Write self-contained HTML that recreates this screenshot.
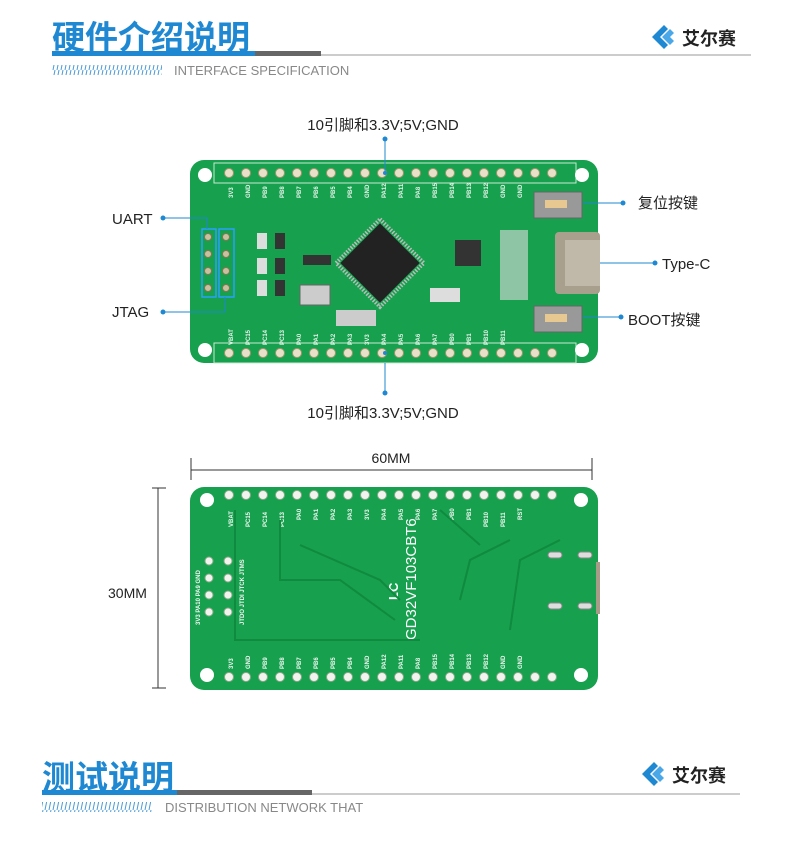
<!DOCTYPE html>
<html><head><meta charset="utf-8"><style>
body{margin:0;background:#fff;width:790px;height:837px;overflow:hidden;font-family:"Liberation Sans","Noto Sans CJK SC",sans-serif}
</style></head><body>
<svg width="790" height="837" viewBox="0 0 790 837" xmlns="http://www.w3.org/2000/svg" font-family="Liberation Sans, Noto Sans CJK SC, sans-serif">
<defs>
<pattern id="sl" width="4" height="10" patternUnits="userSpaceOnUse"><line x1="3" y1="0" x2="1" y2="10" stroke="#4a9ad8" stroke-width="1"/></pattern>
</defs>
<!-- header -->
<text x="52" y="49" font-size="33" font-weight="bold" fill="#1f88d2" font-family="Noto Sans CJK SC, sans-serif">硬件介绍说明</text>
<rect x="52" y="51" width="203" height="5" fill="#1f88d2"/>
<rect x="255" y="51" width="66" height="5" fill="#666"/>
<rect x="321" y="54" width="430" height="2" fill="#ccc"/>
<rect x="52" y="65" width="110" height="10" fill="url(#sl)"/>
<text x="174" y="75" font-size="13" fill="#888">INTERFACE SPECIFICATION</text>
<g transform="translate(652,25)"><path d="M0 12 L12 0 L16 4 L8 12 L16 20 L12 24Z" fill="#1f88d2"/><path d="M10 12 L18 4 L22 8 L18 12 L22 16 L18 20Z" fill="#4aa8e8"/><text x="30" y="20" font-size="18" font-weight="bold" fill="#222" font-family="Noto Sans CJK SC, sans-serif">艾尔赛</text></g>

<!-- top board -->
<rect x="190" y="160" width="408" height="203" rx="14" fill="#17a04e"/>
<rect x="214" y="163" width="362" height="20" fill="none" stroke="#c8e8d0" stroke-width="1"/>
<rect x="214" y="343" width="362" height="20" fill="none" stroke="#c8e8d0" stroke-width="1"/>
<g fill="#fff"><circle cx="205" cy="175" r="7"/><circle cx="582" cy="175" r="7"/><circle cx="205" cy="350" r="7"/><circle cx="582" cy="350" r="7"/></g>
<g fill="#e8e0c8" stroke="#a09870" stroke-width="1">
<circle cx="229" cy="173" r="4.5"/><circle cx="246" cy="173" r="4.5"/><circle cx="263" cy="173" r="4.5"/><circle cx="280" cy="173" r="4.5"/><circle cx="297" cy="173" r="4.5"/><circle cx="314" cy="173" r="4.5"/><circle cx="331" cy="173" r="4.5"/><circle cx="348" cy="173" r="4.5"/><circle cx="365" cy="173" r="4.5"/><circle cx="382" cy="173" r="4.5"/><circle cx="399" cy="173" r="4.5"/><circle cx="416" cy="173" r="4.5"/><circle cx="433" cy="173" r="4.5"/><circle cx="450" cy="173" r="4.5"/><circle cx="467" cy="173" r="4.5"/><circle cx="484" cy="173" r="4.5"/><circle cx="501" cy="173" r="4.5"/><circle cx="518" cy="173" r="4.5"/><circle cx="535" cy="173" r="4.5"/><circle cx="552" cy="173" r="4.5"/>
<circle cx="229" cy="353" r="4.5"/><circle cx="246" cy="353" r="4.5"/><circle cx="263" cy="353" r="4.5"/><circle cx="280" cy="353" r="4.5"/><circle cx="297" cy="353" r="4.5"/><circle cx="314" cy="353" r="4.5"/><circle cx="331" cy="353" r="4.5"/><circle cx="348" cy="353" r="4.5"/><circle cx="365" cy="353" r="4.5"/><circle cx="382" cy="353" r="4.5"/><circle cx="399" cy="353" r="4.5"/><circle cx="416" cy="353" r="4.5"/><circle cx="433" cy="353" r="4.5"/><circle cx="450" cy="353" r="4.5"/><circle cx="467" cy="353" r="4.5"/><circle cx="484" cy="353" r="4.5"/><circle cx="501" cy="353" r="4.5"/><circle cx="518" cy="353" r="4.5"/><circle cx="535" cy="353" r="4.5"/><circle cx="552" cy="353" r="4.5"/>
</g>
<g font-size="6" fill="#e8f4ec" font-weight="bold">
<text transform="translate(233,198) rotate(-90)">3V3</text><text transform="translate(250,198) rotate(-90)">GND</text><text transform="translate(267,198) rotate(-90)">PB9</text><text transform="translate(284,198) rotate(-90)">PB8</text><text transform="translate(301,198) rotate(-90)">PB7</text><text transform="translate(318,198) rotate(-90)">PB6</text><text transform="translate(335,198) rotate(-90)">PB5</text><text transform="translate(352,198) rotate(-90)">PB4</text><text transform="translate(369,198) rotate(-90)">GND</text><text transform="translate(386,198) rotate(-90)">PA12</text><text transform="translate(403,198) rotate(-90)">PA11</text><text transform="translate(420,198) rotate(-90)">PA8</text><text transform="translate(437,198) rotate(-90)">PB15</text><text transform="translate(454,198) rotate(-90)">PB14</text><text transform="translate(471,198) rotate(-90)">PB13</text><text transform="translate(488,198) rotate(-90)">PB12</text><text transform="translate(505,198) rotate(-90)">GND</text><text transform="translate(522,198) rotate(-90)">GND</text>
<text transform="translate(233,345) rotate(-90)">VBAT</text><text transform="translate(250,345) rotate(-90)">PC15</text><text transform="translate(267,345) rotate(-90)">PC14</text><text transform="translate(284,345) rotate(-90)">PC13</text><text transform="translate(301,345) rotate(-90)">PA0</text><text transform="translate(318,345) rotate(-90)">PA1</text><text transform="translate(335,345) rotate(-90)">PA2</text><text transform="translate(352,345) rotate(-90)">PA3</text><text transform="translate(369,345) rotate(-90)">3V3</text><text transform="translate(386,345) rotate(-90)">PA4</text><text transform="translate(403,345) rotate(-90)">PA5</text><text transform="translate(420,345) rotate(-90)">PA6</text><text transform="translate(437,345) rotate(-90)">PA7</text><text transform="translate(454,345) rotate(-90)">PB0</text><text transform="translate(471,345) rotate(-90)">PB1</text><text transform="translate(488,345) rotate(-90)">PB10</text><text transform="translate(505,345) rotate(-90)">PB11</text>
</g>
<rect x="202" y="229" width="14" height="68" fill="none" stroke="#2aa0ff" stroke-width="1.5"/>
<rect x="219" y="229" width="15" height="68" fill="none" stroke="#2aa0ff" stroke-width="1.5"/>
<g fill="#c8c0a0" stroke="#807850"><circle cx="208" cy="237" r="3.5"/><circle cx="208" cy="254" r="3.5"/><circle cx="208" cy="271" r="3.5"/><circle cx="208" cy="288" r="3.5"/><circle cx="226" cy="237" r="3.5"/><circle cx="226" cy="254" r="3.5"/><circle cx="226" cy="271" r="3.5"/><circle cx="226" cy="288" r="3.5"/></g>
<g transform="translate(380,263) rotate(45)"><rect x="-31" y="-31" width="62" height="62" fill="none" stroke="#bbb" stroke-width="4" stroke-dasharray="1.5 1.5"/><rect x="-28" y="-28" width="56" height="56" fill="#222"/></g>
<g fill="#333"><rect x="455" y="240" width="26" height="26"/><rect x="300" y="285" width="30" height="20" fill="#ccc" stroke="#666"/><rect x="303" y="255" width="28" height="10" fill="#333"/>
<rect x="257" y="233" width="10" height="16" fill="#ddd"/><rect x="257" y="258" width="10" height="16" fill="#ddd"/><rect x="257" y="280" width="10" height="16" fill="#ddd"/>
<rect x="275" y="233" width="10" height="16"/><rect x="275" y="258" width="10" height="16"/><rect x="275" y="280" width="10" height="16"/>
<rect x="336" y="310" width="40" height="16" fill="#ccc"/><rect x="430" y="288" width="30" height="14" fill="#ddd"/><rect x="500" y="230" width="28" height="70" fill="#ddd" opacity="0.6"/></g>
<rect x="534" y="192" width="48" height="26" fill="#999" stroke="#666"/><rect x="545" y="200" width="22" height="8" fill="#e6c890"/>
<rect x="534" y="306" width="48" height="26" fill="#999" stroke="#666"/><rect x="545" y="314" width="22" height="8" fill="#e6c890"/>
<rect x="555" y="232" width="45" height="62" rx="4" fill="#a8a08c"/><rect x="565" y="240" width="35" height="46" fill="#c0b8a8"/>
<g stroke="#1f88d2" stroke-width="1" fill="none">
<line x1="385" y1="139" x2="385" y2="173"/><line x1="385" y1="363" x2="385" y2="393"/>
<polyline points="163,218 207,218 207,229"/><polyline points="163,312 225,312 225,297"/>
<line x1="583" y1="203" x2="623" y2="203"/><line x1="600" y1="263" x2="655" y2="263"/><line x1="583" y1="317" x2="621" y2="317"/>
</g>
<g fill="#1f88d2"><circle cx="385" cy="139" r="2.5"/><circle cx="385" cy="393" r="2.5"/><circle cx="163" cy="218" r="2.5"/><circle cx="163" cy="312" r="2.5"/><circle cx="623" cy="203" r="2.5"/><circle cx="655" cy="263" r="2.5"/><circle cx="621" cy="317" r="2.5"/><circle cx="385" cy="173" r="2"/><circle cx="385" cy="353" r="2"/></g>
<g font-size="15" fill="#222">
<text x="383" y="130" text-anchor="middle">10引脚和3.3V;5V;GND</text>
<text x="383" y="418" text-anchor="middle">10引脚和3.3V;5V;GND</text>
<text x="112" y="224">UART</text><text x="112" y="317">JTAG</text>
<text x="638" y="208">复位按键</text><text x="662" y="269">Type-C</text><text x="628" y="325">BOOT按键</text>
</g>

<g stroke="#333" stroke-width="1"><line x1="191" y1="470" x2="592" y2="470"/><line x1="191" y1="458" x2="191" y2="480"/><line x1="592" y1="458" x2="592" y2="480"/>
<line x1="158" y1="488" x2="158" y2="688"/><line x1="152" y1="488" x2="166" y2="488"/><line x1="152" y1="688" x2="166" y2="688"/></g>
<text x="391" y="463" font-size="14" fill="#222" text-anchor="middle">60MM</text>
<text x="108" y="598" font-size="14" fill="#222">30MM</text>

<rect x="190" y="487" width="408" height="203" rx="14" fill="#17a04e"/>
<g fill="#fff"><circle cx="207" cy="500" r="7"/><circle cx="581" cy="500" r="7"/><circle cx="207" cy="675" r="7"/><circle cx="581" cy="675" r="7"/></g>
<g fill="#f2f2ee" stroke="#8a8" stroke-width="1">
<circle cx="229" cy="495" r="4.5"/><circle cx="246" cy="495" r="4.5"/><circle cx="263" cy="495" r="4.5"/><circle cx="280" cy="495" r="4.5"/><circle cx="297" cy="495" r="4.5"/><circle cx="314" cy="495" r="4.5"/><circle cx="331" cy="495" r="4.5"/><circle cx="348" cy="495" r="4.5"/><circle cx="365" cy="495" r="4.5"/><circle cx="382" cy="495" r="4.5"/><circle cx="399" cy="495" r="4.5"/><circle cx="416" cy="495" r="4.5"/><circle cx="433" cy="495" r="4.5"/><circle cx="450" cy="495" r="4.5"/><circle cx="467" cy="495" r="4.5"/><circle cx="484" cy="495" r="4.5"/><circle cx="501" cy="495" r="4.5"/><circle cx="518" cy="495" r="4.5"/><circle cx="535" cy="495" r="4.5"/><circle cx="552" cy="495" r="4.5"/>
<circle cx="229" cy="677" r="4.5"/><circle cx="246" cy="677" r="4.5"/><circle cx="263" cy="677" r="4.5"/><circle cx="280" cy="677" r="4.5"/><circle cx="297" cy="677" r="4.5"/><circle cx="314" cy="677" r="4.5"/><circle cx="331" cy="677" r="4.5"/><circle cx="348" cy="677" r="4.5"/><circle cx="365" cy="677" r="4.5"/><circle cx="382" cy="677" r="4.5"/><circle cx="399" cy="677" r="4.5"/><circle cx="416" cy="677" r="4.5"/><circle cx="433" cy="677" r="4.5"/><circle cx="450" cy="677" r="4.5"/><circle cx="467" cy="677" r="4.5"/><circle cx="484" cy="677" r="4.5"/><circle cx="501" cy="677" r="4.5"/><circle cx="518" cy="677" r="4.5"/><circle cx="535" cy="677" r="4.5"/><circle cx="552" cy="677" r="4.5"/>
<circle cx="209" cy="561" r="4"/><circle cx="209" cy="578" r="4"/><circle cx="209" cy="595" r="4"/><circle cx="209" cy="612" r="4"/><circle cx="228" cy="561" r="4"/><circle cx="228" cy="578" r="4"/><circle cx="228" cy="595" r="4"/><circle cx="228" cy="612" r="4"/>
</g>
<g font-size="6" fill="#f0f8f2" font-weight="bold">
<text transform="translate(233,527) rotate(-90)">VBAT</text><text transform="translate(250,527) rotate(-90)">PC15</text><text transform="translate(267,527) rotate(-90)">PC14</text><text transform="translate(284,527) rotate(-90)">PC13</text><text transform="translate(301,520) rotate(-90)">PA0</text><text transform="translate(318,520) rotate(-90)">PA1</text><text transform="translate(335,520) rotate(-90)">PA2</text><text transform="translate(352,520) rotate(-90)">PA3</text><text transform="translate(369,520) rotate(-90)">3V3</text><text transform="translate(386,520) rotate(-90)">PA4</text><text transform="translate(403,520) rotate(-90)">PA5</text><text transform="translate(420,520) rotate(-90)">PA6</text><text transform="translate(437,520) rotate(-90)">PA7</text><text transform="translate(454,520) rotate(-90)">PB0</text><text transform="translate(471,520) rotate(-90)">PB1</text><text transform="translate(488,527) rotate(-90)">PB10</text><text transform="translate(505,527) rotate(-90)">PB11</text><text transform="translate(522,520) rotate(-90)">RST</text>
<text transform="translate(233,669) rotate(-90)">3V3</text><text transform="translate(250,669) rotate(-90)">GND</text><text transform="translate(267,669) rotate(-90)">PB9</text><text transform="translate(284,669) rotate(-90)">PB8</text><text transform="translate(301,669) rotate(-90)">PB7</text><text transform="translate(318,669) rotate(-90)">PB6</text><text transform="translate(335,669) rotate(-90)">PB5</text><text transform="translate(352,669) rotate(-90)">PB4</text><text transform="translate(369,669) rotate(-90)">GND</text><text transform="translate(386,669) rotate(-90)">PA12</text><text transform="translate(403,669) rotate(-90)">PA11</text><text transform="translate(420,669) rotate(-90)">PA8</text><text transform="translate(437,669) rotate(-90)">PB15</text><text transform="translate(454,669) rotate(-90)">PB14</text><text transform="translate(471,669) rotate(-90)">PB13</text><text transform="translate(488,669) rotate(-90)">PB12</text><text transform="translate(505,669) rotate(-90)">GND</text><text transform="translate(522,669) rotate(-90)">GND</text>
<text transform="translate(200,625) rotate(-90)">3V3 PA10 PA9 GND</text><text transform="translate(244,625) rotate(-90)">JTDO JTDI JTCK JTMS</text>
</g>
<text transform="translate(416,640) rotate(-90)" font-size="15" fill="#fff">GD32VF103CBT6</text>
<text transform="translate(398,600) rotate(-90)" font-size="13" font-weight="bold" fill="#fff">LC</text>
<g stroke="#0f8a3e" stroke-width="2" fill="none"><polyline points="235,510 235,640 420,640"/><polyline points="280,520 280,580 340,580 395,620"/><polyline points="300,545 380,580 400,600"/><polyline points="440,510 480,545"/><polyline points="510,540 470,560 460,600"/><polyline points="560,540 520,560 510,630"/></g>
<g fill="#ddd" stroke="#888"><rect x="548" y="552" width="14" height="6" rx="3"/><rect x="578" y="552" width="14" height="6" rx="3"/><rect x="548" y="603" width="14" height="6" rx="3"/><rect x="578" y="603" width="14" height="6" rx="3"/></g>
<rect x="596" y="562" width="4" height="52" fill="#a89c88"/>

<text x="42" y="789" font-size="33" font-weight="bold" fill="#1f88d2" font-family="Noto Sans CJK SC, sans-serif">测试说明</text>
<rect x="42" y="790" width="135" height="5" fill="#1f88d2"/>
<rect x="177" y="790" width="135" height="5" fill="#666"/>
<rect x="312" y="793" width="428" height="2" fill="#ccc"/>
<rect x="42" y="802" width="110" height="10" fill="url(#sl)"/>
<text x="165" y="812" font-size="13" fill="#888">DISTRIBUTION NETWORK THAT</text>
<g transform="translate(642,762)"><path d="M0 12 L12 0 L16 4 L8 12 L16 20 L12 24Z" fill="#1f88d2"/><path d="M10 12 L18 4 L22 8 L18 12 L22 16 L18 20Z" fill="#4aa8e8"/><text x="30" y="20" font-size="18" font-weight="bold" fill="#222" font-family="Noto Sans CJK SC, sans-serif">艾尔赛</text></g>
</svg>
</body></html>
